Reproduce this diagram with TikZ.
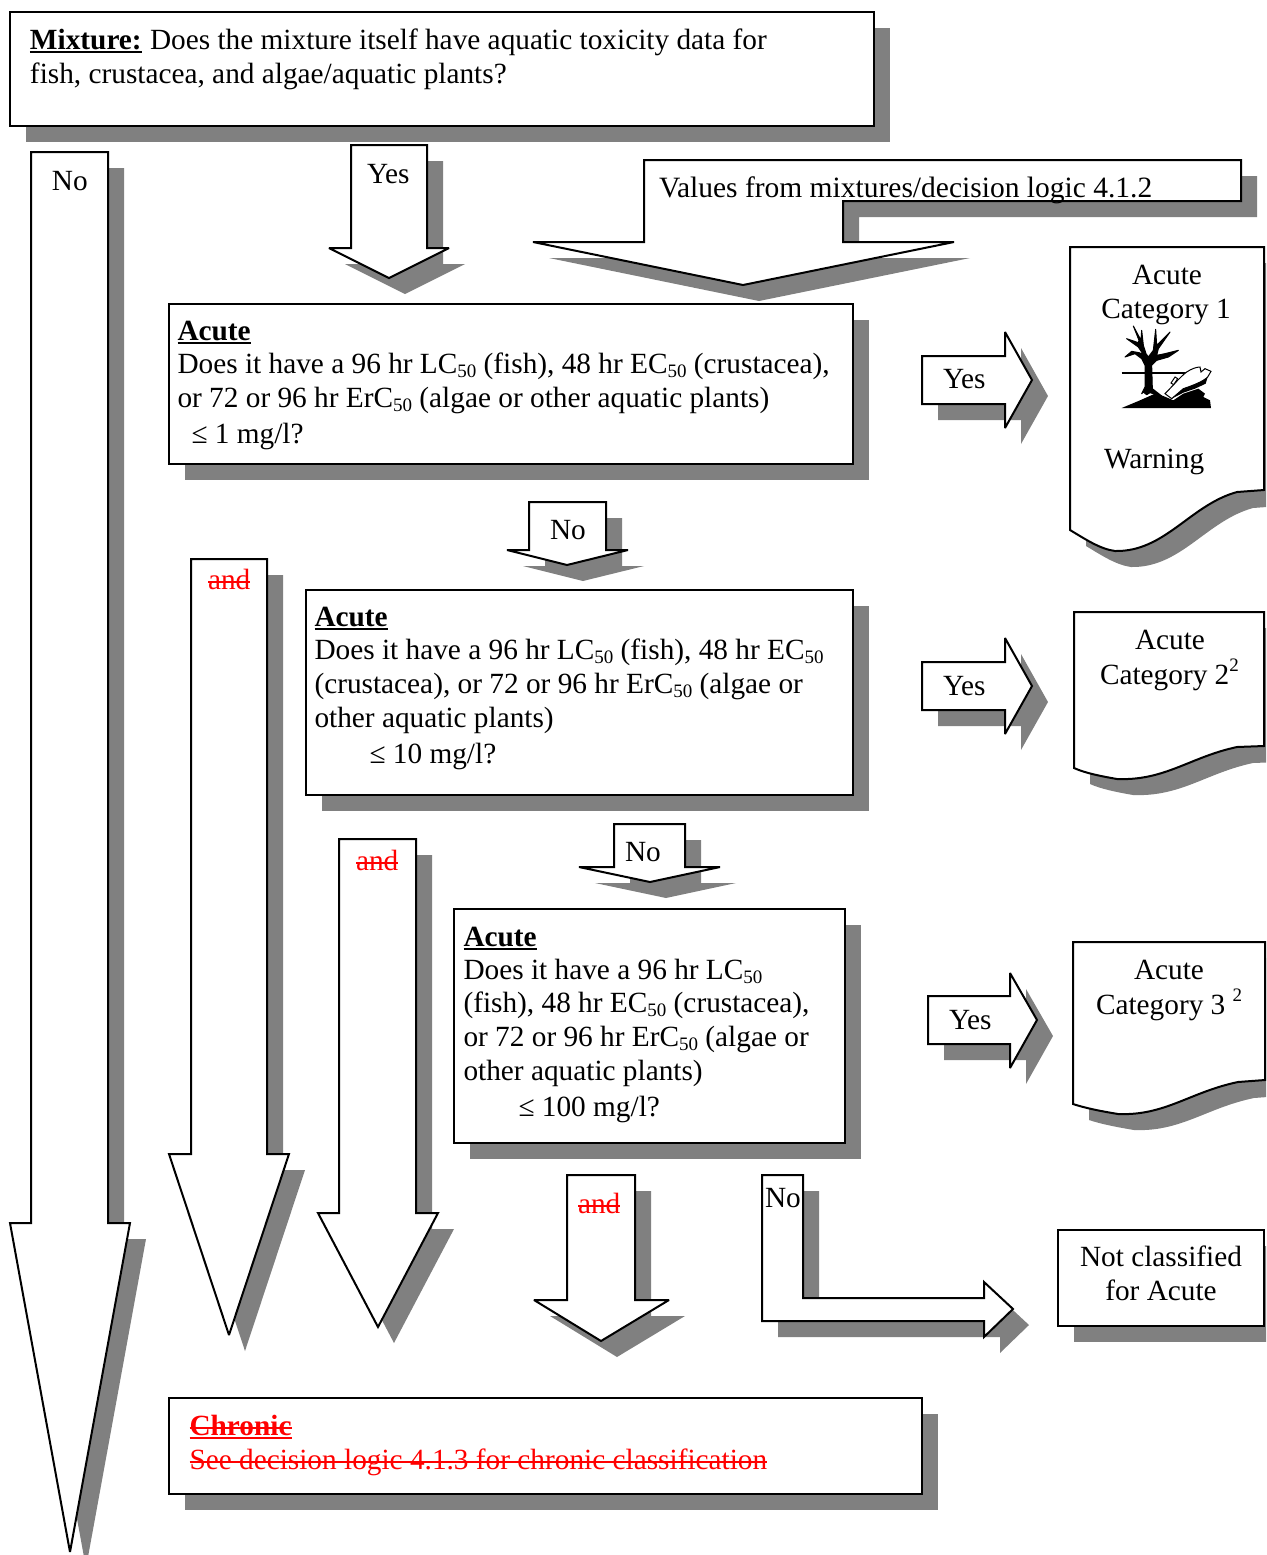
\documentclass[tikz,border=0pt]{standalone}
\usepackage{fontspec}
\setmainfont{Liberation Serif}
\newcommand\lowx[1]{\raisebox{-2pt}{\fontsize{9.5}{10}\selectfont #1}}
\newcommand\upx[1]{\raisebox{6.5pt}{\fontsize{9.5}{10}\selectfont #1}}
\newcommand\fl{\rule{0pt}{12pt}}
\newcommand\ulb[1]{\sbox0{#1}\rlap{\rule[-1.8pt]{\wd0}{0.9pt}}#1}
\newcommand\strk[1]{\sbox0{#1}\rlap{\rule[3.2pt]{\wd0}{0.8pt}}#1}
\newcommand\shadowed[1]{\fill[shadowc,shift={(16,16)}] #1; \draw[outl] #1;}
\definecolor{shadowc}{HTML}{808080}
\definecolor{redt}{HTML}{FF0000}
\tikzset{
  outl/.style={draw=black,fill=white,line width=1pt,line join=miter,miter limit=3},
  tx/.style={inner sep=0pt,outer sep=0pt,anchor=base west,font=\fontsize{14.65}{17}\selectfont},
  txc/.style={tx,anchor=base},
  block/.style={inner sep=0pt,outer sep=0pt,anchor=north west,align=left,font=\fontsize{14.65}{17}\selectfont},
  redtx/.style={text=redt}
}
\begin{document}
\begin{tikzpicture}[x=0.5pt,y=-0.5pt]
\clip (0,0) rectangle (1266,1555);
% boxes
\shadowed{(10,12) rectangle (874,126)}
\shadowed{(169,304) rectangle (853,464)}
\shadowed{(306,590) rectangle (853,795)}
\shadowed{(454,909) rectangle (845,1143)}
\shadowed{(1058,1230) rectangle (1264,1326)}
\shadowed{(169,1398) rectangle (922,1494)}
% block arrows
\shadowed{(31,152) -- (108,152) -- (108,1223) -- (130,1223) -- (70,1552) -- (10,1223) -- (31,1223) -- cycle}
\shadowed{(351,145) -- (427,145) -- (427,248) -- (449,248) -- (389,278) -- (329,248) -- (351,248) -- cycle}
\shadowed{(644,160) -- (1241,160) -- (1241,201) -- (843,201) -- (843,242) -- (954,242) -- (743,285) -- (533,242) -- (644,242) -- cycle}
\shadowed{(529,502) -- (606,502) -- (606,550) -- (628,550) -- (567,565) -- (507,550) -- (529,550) -- cycle}
\shadowed{(614,824) -- (685,824) -- (685,867) -- (720,867) -- (650,882) -- (579,867) -- (614,867) -- cycle}
\shadowed{(191,559) -- (267,559) -- (267,1154) -- (289,1154) -- (229,1335) -- (169,1154) -- (191,1154) -- cycle}
\shadowed{(339,839) -- (416,839) -- (416,1213) -- (438,1213) -- (378,1327) -- (318,1213) -- (339,1213) -- cycle}
\shadowed{(567,1175) -- (635,1175) -- (635,1300) -- (669,1300) -- (601,1341) -- (534,1300) -- (567,1300) -- cycle}
\shadowed{(762,1175) -- (803,1175) -- (803,1298) -- (984,1298) -- (984,1282) -- (1013,1309) -- (984,1337) -- (984,1321) -- (762,1321) -- cycle}
\shadowed{(922,356) -- (1005,356) -- (1005,332) -- (1032,380) -- (1005,428) -- (1005,404) -- (922,404) -- cycle}
\shadowed{(922,662) -- (1005,662) -- (1005,638) -- (1032,686) -- (1005,734) -- (1005,710) -- (922,710) -- cycle}
\shadowed{(928,996) -- (1010,996) -- (1010,973) -- (1037,1020) -- (1010,1068) -- (1010,1044) -- (928,1044) -- cycle}
% document shapes
\shadowed{(1070,247) -- (1264,247) -- (1264,490) -- (1237,492) .. controls (1190,505) and (1165,552) .. (1115,551) .. controls (1100,549) and (1085,539) .. (1070,530) -- cycle}
\shadowed{(1074,612) -- (1264,612) -- (1264,746) -- (1237,747) .. controls (1190,757) and (1165,781) .. (1117,779) .. controls (1100,776) and (1085,773) .. (1074,768) -- cycle}
\shadowed{(1073,942) -- (1265,942) -- (1265,1080) -- (1238,1082) .. controls (1190,1092) and (1165,1116) .. (1118,1114) .. controls (1100,1111) and (1085,1108) .. (1073,1104) -- cycle}
% pictogram
\begin{scope}[shift={(1115,322)},x=0.16667pt,y=-0.16667pt]
\draw[line width=0.7pt] (20,153) -- (215,153);
\filldraw[line width=0.5pt,line join=round] (55,12) -- (78,55) -- (80,25) -- (85,70) -- (93,95) -- (100,105) -- (115,85) -- (122,22) -- (125,70) -- (165,30) -- (130,80) -- (125,100) -- (150,95) -- (190,85) -- (160,105) -- (125,115) -- (110,130) -- (112,200) -- (140,222) -- (105,212) -- (95,218) -- (85,210) -- (80,215) -- (90,195) -- (90,130) -- (80,110) -- (60,95) -- (30,105) -- (50,88) -- (72,92) -- (85,98) -- (70,75) -- (35,50) -- (70,62) -- (72,55) -- cycle;
\fill (20,258) -- (75,235) -- (120,215) -- (145,222) -- (175,235) -- (205,215) -- (235,205) -- (250,200) -- (270,215) -- (265,225) -- (285,235) -- (288,258) -- cycle;
\draw[fill=white,line width=0.5pt] (150,215) .. controls (175,190) and (195,165) .. (215,150) .. controls (230,140) and (245,135) .. (255,135) -- (258,150) -- (270,140) -- (288,148) -- (278,165) .. controls (265,178) and (235,190) .. (205,200) -- (170,230) -- cycle;
\fill (170,230) -- (205,200) .. controls (235,190) and (265,178) .. (278,165) -- (272,185) -- (240,200) -- (205,212) -- cycle;
\draw[fill=white,line width=0.5pt] (168,183) -- (180,165) -- (188,170) -- (176,188) -- cycle;
\end{scope}
% texts
\node[block] (mixq) at (30,25) {\fl\ulb{\textbf{Mixture:}}\kern0.5pt\ Does the mixture itself have aquatic toxicity data for\\fish, crustacea, and algae/aquatic plants?};
\node[tx] (nomain) at (52,190) {No};
\node[tx] (yesmain) at (367,183) {Yes};
\node[tx,font=\fontsize{14.75}{17}\selectfont] (values) at (659,197) {Values from mixtures/decision logic 4.1.2};
\node[block] (acute1) at (177.5,316) {\fl\ulb{\textbf{Acute}}\\[-0.5pt]Does it have a 96 hr LC\lowx{50} (fish), 48 hr EC\lowx{50} (crustacea),\\or 72 or 96 hr ErC\lowx{50} (algae or other aquatic plants)\\[1pt]\hspace*{7pt}≤ 1 mg/l?};
\node[block] (acute2) at (314.5,602) {\fl\ulb{\textbf{Acute}}\\[-0.5pt]Does it have a 96 hr LC\lowx{50} (fish), 48 hr EC\lowx{50}\\(crustacea), or 72 or 96 hr ErC\lowx{50} (algae or\\other aquatic plants)\\[1pt]\hspace*{27.5pt}≤ 10 mg/l?};
\node[block] (acute3) at (463.5,922) {\fl\ulb{\textbf{Acute}}\\[-0.5pt]Does it have a 96 hr LC\lowx{50}\\[-0.5pt](fish), 48 hr EC\lowx{50} (crustacea),\\or 72 or 96 hr ErC\lowx{50} (algae or\\other aquatic plants)\\[1pt]\hspace*{27.5pt}≤ 100 mg/l?};
\node[tx] (no1) at (550,539) {No};
\node[tx] (no2) at (625,861) {No};
\node[tx] (no3) at (765,1207) {No};
\node[tx] (yes1) at (943,388) {Yes};
\node[tx] (yes2) at (943,695) {Yes};
\node[tx] (yes3) at (949,1029) {Yes};
\node[txc] (c1a) at (1167,284) {Acute};
\node[txc] (c1b) at (1166,318) {Category 1};
\node[tx] (warn) at (1104,468) {Warning};
\node[txc] (c2a) at (1170,649) {Acute};
\node[tx] (c2b) at (1100,684) {Category 2\upx{2}};
\node[txc] (c3a) at (1169,979) {Acute};
\node[tx] (c3b) at (1096,1014) {Category 3 \upx{2}};
\node[txc] (nc1) at (1161,1266) {Not classified};
\node[txc] (nc2) at (1161,1300) {for Acute};
\node[tx,redtx] (and1) at (208,589) {\strk{and}};
\node[tx,redtx] (and2) at (356,870) {\strk{and}};
\node[tx,redtx] (and3) at (578,1213) {\strk{and}};
\node[block,redtx] (chron) at (189.5,1411) {\fl\ulb{\strk{\textbf{Chronic}}}\\\strk{See decision logic 4.1.3 for chronic classification}};
\end{tikzpicture}
\end{document}
